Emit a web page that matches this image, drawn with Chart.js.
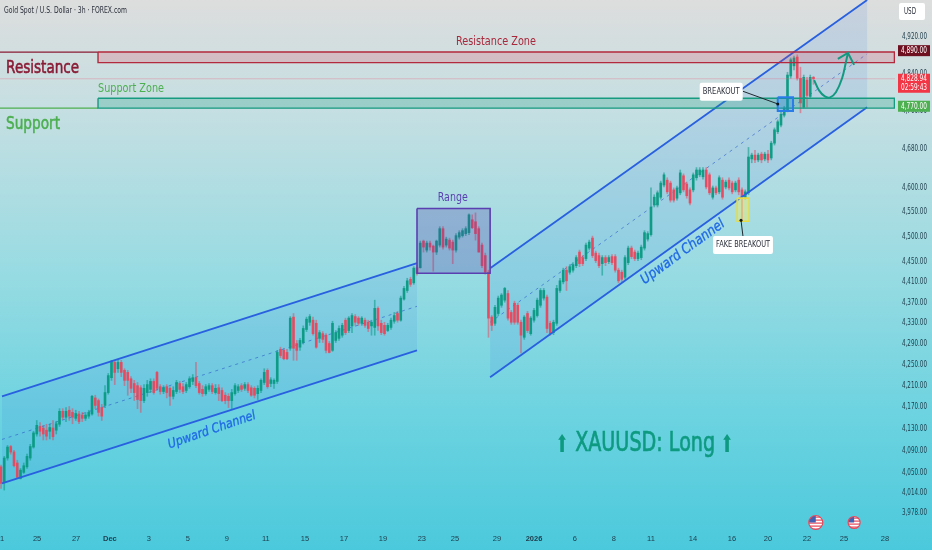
<!DOCTYPE html>
<html>
<head>
<meta charset="utf-8">
<title>Gold Spot / U.S. Dollar</title>
<script src="https://cdn.jsdelivr.net/npm/chart.js@4"></script>
<style>
html, body { margin: 0; padding: 0; background: #7fd3df; overflow: hidden; }
#wrap { width: 932px; height: 550px; }
</style>
</head>
<body>
<div id="wrap"><canvas id="myChart" width="932" height="550"></canvas></div>
<script>
// 3h candles
const barOpen = [
  4060,4033,4076,4097,4087,4067,4039,4050,4060,4076, 4096,4120,4134,4131,4127,4125,4131,4127,4138,4162,
  4151,4164,4160,4149,4157,4155,4149,4153,4157,4187, 4182,4169,4173,4197,4225,4254,4242,4254,4239,4235,
  4223,4214,4210,4206,4182,4197,4203,4218,4235,4208, 4199,4208,4205,4190,4199,4214,4208,4201,4208,4218,
  4225,4214,4203,4195,4203,4210,4197,4206,4201,4192, 4190,4182,4195,4201,4210,4205,4212,4206,4205,4195,
  4201,4216,4239,4214,4214,4218,4279,4277,4273,4281, 4341,4290,4283,4292,4317,4331,4335,4329,4300,4309,
  4306,4290,4277,4296,4300,4306,4335,4315,4324,4342, 4339,4329,4335,4331,4324,4321,4358,4329,4325,4315,
  4321,4333,4348,4335,4376,4393,4415,4408,4438,4438, 4491,4473,4487,4481,4469,4483,4516,4483,4493,4489,
  4473,4499,4502,4506,4508,4534,4530,4516,4483,4462, 4429,4341,4329,4348,4364,4374,4387,4350,4368,4364,
  4331,4302,4348,4309,4335,4344,4364,4378,4380,4329, 4311,4329,4393,4410,4433,4429,4433,4442,4469,4458,
  4456,4477,4497,4467,4462,4446,4458,4450,4460,4460, 4433,4429,4419,4448,4477,4469,4456,4458,4477,4495,
  4504,4564,4564,4580,4605,4615,4609,4595,4578,4589, 4624,4607,4595,4595,4620,4626,4622,4636,4626,4580,
  4599,4591,4615,4601,4615,4609,4595,4615,4595,4580, 4589,4659,4667,4657,4669,4659,4669,4661,4692,4716,
  4730,4751,4762,4835,4857,4876,4830,4768,4826,4791,4832
];
const barHigh = [
  4063,4079,4099,4099,4090,4072,4057,4067,4083,4101, 4125,4145,4141,4136,4138,4138,4145,4143,4167,4167,
  4169,4171,4167,4164,4162,4160,4160,4164,4192,4192, 4185,4175,4210,4233,4258,4258,4258,4258,4242,4239,
  4227,4220,4216,4210,4212,4220,4223,4223,4237,4212, 4210,4212,4208,4208,4220,4218,4214,4216,4227,4231,
  4254,4218,4210,4212,4214,4214,4212,4212,4206,4197, 4195,4203,4214,4212,4214,4216,4216,4210,4208,4210,
  4223,4242,4242,4225,4223,4277,4283,4281,4279,4342, 4348,4296,4300,4324,4341,4346,4341,4335,4315,4313,
  4309,4294,4333,4315,4324,4329,4339,4342,4348,4346, 4342,4342,4339,4335,4335,4374,4361,4335,4331,4329,
  4339,4350,4352,4382,4401,4417,4419,4440,4442,4491, 4493,4491,4491,4483,4493,4520,4520,4499,4497,4493,
  4506,4512,4516,4520,4546,4544,4548,4520,4487,4467, 4433,4344,4364,4382,4387,4399,4393,4354,4372,4368,
  4335,4344,4352,4342,4358,4378,4397,4397,4384,4333, 4335,4403,4417,4437,4440,4444,4448,4462,4473,4462,
  4487,4493,4501,4471,4467,4462,4462,4462,4464,4464, 4437,4433,4462,4481,4481,4473,4471,4483,4512,4510,
  4599,4585,4593,4613,4630,4620,4613,4599,4603,4636, 4628,4611,4599,4630,4641,4641,4641,4641,4630,4603,
  4603,4624,4620,4615,4620,4613,4613,4620,4599,4595, 4683,4671,4677,4671,4673,4673,4677,4696,4724,4741,
  4758,4770,4843,4874,4878,4881,4854,4837,4832,4837,4834
];
const barLow = [
  4021,4018,4072,4083,4060,4039,4038,4048,4057,4072, 4094,4116,4116,4109,4109,4111,4109,4120,4134,4147,
  4143,4145,4139,4145,4139,4143,4145,4149,4155,4167, 4153,4145,4169,4194,4220,4212,4235,4227,4210,4192,
  4197,4182,4167,4160,4178,4190,4197,4194,4201,4194, 4195,4187,4173,4185,4195,4197,4195,4197,4205,4212,
  4206,4194,4190,4192,4199,4195,4194,4182,4180,4176, 4169,4167,4192,4197,4199,4201,4197,4190,4187,4184,
  4197,4212,4205,4208,4205,4214,4263,4259,4259,4277, 4258,4258,4277,4289,4313,4325,4306,4281,4292,4292,
  4272,4272,4275,4292,4296,4302,4307,4311,4311,4325, 4325,4325,4321,4313,4306,4306,4315,4307,4306,4313,
  4317,4329,4331,4333,4374,4389,4401,4405,4423,4437, 4469,4469,4473,4431,4464,4479,4475,4479,4473,4446,
  4469,4495,4499,4502,4504,4516,4493,4469,4438,4425, 4302,4315,4325,4344,4360,4370,4335,4327,4327,4327,
  4272,4298,4311,4306,4331,4341,4360,4374,4311,4306, 4307,4325,4389,4406,4393,4425,4429,4438,4440,4442,
  4452,4473,4458,4448,4438,4423,4442,4446,4444,4429, 4408,4410,4415,4444,4456,4452,4452,4454,4473,4491,
  4501,4560,4560,4576,4601,4587,4570,4570,4574,4585, 4591,4578,4564,4591,4615,4622,4617,4597,4585,4576,
  4585,4587,4576,4597,4595,4587,4591,4585,4534,4576, 4585,4651,4651,4653,4651,4655,4651,4657,4688,4712,
  4726,4747,4758,4830,4848,4826,4756,4766,4768,4787,4817
];
const barClose = [
  4030,4076,4096,4087,4062,4041,4054,4062,4079,4097, 4122,4136,4125,4120,4116,4132,4115,4139,4162,4151,
  4162,4153,4151,4158,4143,4149,4155,4160,4190,4173, 4160,4153,4197,4229,4256,4235,4254,4235,4220,4220,
  4205,4197,4184,4182,4205,4212,4218,4197,4205,4199, 4206,4197,4190,4201,4216,4203,4199,4212,4223,4225,
  4210,4197,4195,4208,4210,4199,4205,4195,4182,4182, 4182,4197,4210,4208,4203,4212,4201,4192,4192,4205,
  4220,4235,4208,4221,4220,4273,4267,4261,4261,4339, 4281,4277,4296,4319,4337,4342,4309,4283,4311,4298,
  4277,4273,4329,4311,4319,4325,4311,4339,4344,4331, 4329,4339,4325,4319,4331,4358,4324,4311,4309,4325,
  4335,4344,4335,4378,4397,4412,4405,4437,4427,4487, 4479,4487,4479,4469,4491,4516,4479,4495,4477,4473,
  4502,4508,4512,4516,4544,4518,4506,4469,4442,4429, 4339,4325,4360,4378,4384,4397,4339,4331,4331,4331,
  4306,4341,4315,4339,4354,4374,4393,4393,4319,4309, 4331,4397,4412,4433,4412,4440,4444,4458,4446,4446,
  4483,4489,4462,4452,4442,4458,4448,4458,4448,4433, 4412,4415,4458,4477,4460,4456,4467,4479,4508,4506,
  4560,4580,4589,4609,4626,4591,4574,4574,4599,4630, 4595,4583,4568,4626,4636,4636,4636,4601,4589,4599,
  4589,4620,4580,4611,4599,4591,4609,4591,4580,4591, 4663,4667,4657,4667,4657,4669,4657,4692,4720,4737,
  4753,4766,4837,4870,4874,4830,4777,4832,4793,4832,4829
];

// axes
const priceTicks = [3978,4014,4050,4090,4130,4170,4210,4250,4290,4330,4370,4410,4450,4500,4550,4600,4680,4760,4840,4920];
const timeLabels = ['1','25','27','Dec','3','5','9','11','15','17','19','23','25','29','2026','6','8','11','14','16','20','22','25','28'];
const timeTickBars = [0.3,11.1,23.1,33.5,45.5,57.5,69.5,81.5,93.5,105.5,117.5,129.5,139.7,152.6,164,176.6,188.6,200,212.9,224.9,236,248,259.4,272];

// drawings, as [bar, price]
const channel1Upper = [[0.3,4190],[128,4447]];
const channel1Lower = [[0.3,4030],[128,4277]];
const channel1Mid = [[0.3,4110],[128,4362]];
const channel2Upper = [[150.5,4437],[266.5,5002]];
const channel2Lower = [[150.5,4226],[266.5,4768]];
const channel2Mid = [[150.5,4331],[266.5,4883]];
const resistanceZone = [[29.85,4887],[274.9,4887],[274.9,4864],[29.85,4864],[29.85,4887]];
const supportZone = [[29.85,4787],[274.9,4787],[274.9,4766],[29.85,4766],[29.85,4787]];
const resistanceLine = [[-0.31,4887],[29.85,4887]];
const supportLine = [[-0.31,4766],[29.85,4766]];
const lastPriceLine = [[-0.31,4829],[275.08,4829]];
const rangeBox = [[128,4557],[150.5,4557],[150.5,4427],[128,4427],[128,4557]];
const breakoutBox = [[239,4789],[243.7,4789],[243.7,4760],[239,4760],[239,4789]];
const fakeBox = [[226.5,4578],[230.2,4578],[230.2,4531],[226.5,4531],[226.5,4578]];
const breakoutLeader = [[228.3,4802],[239,4775]];
const fakeLeader = [[227.7,4533],[228.3,4501]];
const forecastPath = [[250.2,4826],[251.7,4804],[253.5,4791],[255.1,4789],[256.9,4800],[258.8,4830],[260,4866],[260.6,4885]];
const forecastHead = [[257.5,4872],[260.6,4885],[262.5,4859]];

// texts
const noteTexts = ['Resistance','Support','Resistance Zone','Support Zone','Range','Upward Channel','Upward Channel','XAUUSD: Long','⬆','⬆'];
const noteBars = [12.8,9.85,152.3,40,139,64.9,209.8,198.2,172.6,223.4];
const notePrices = [4852,4732,4909,4808,4578,4127,4469,4101,4099,4099];
const noteStyles = [
  { font: '18px "DejaVu Sans"', color: '#8a1b35', width: 73, heavy: 0.6 },
  { font: '18px "DejaVu Sans"', color: '#4caf50', width: 54, heavy: 0.6 },
  { font: '12px "DejaVu Sans"', color: '#a8283c', width: 80 },
  { font: '12px "DejaVu Sans"', color: '#4caf50', width: 66 },
  { font: '12px "DejaVu Sans"', color: '#5a3fb0', width: 30 },
  { font: 'italic 13px "DejaVu Sans"', color: '#1f68e6', width: 92, angle: -19, heavy: 0.3 },
  { font: 'italic 14px "DejaVu Sans"', color: '#1f68e6', width: 100, angle: -36, heavy: 0.3 },
  { font: '26px "DejaVu Sans"', color: '#0e9a80', width: 140, heavy: 0.7 },
  { font: '24px "DejaVu Sans"', color: '#0e9a80', width: 13 },
  { font: '24px "DejaVu Sans"', color: '#0e9a80', width: 13 }
];
const calloutTexts = ['BREAKOUT','FAKE BREAKOUT'];
const calloutBars = [221.6,228.3];
const calloutPrices = [4801,4483];
const calloutWidths = [43,60];
const eventBars = [250.7,262.5];

function pts(list) {
    return list.map(p => ({ x: p[0], y: p[1] }));
}

function rr(ctx, x, y, w, h, r) {
    ctx.beginPath();
    ctx.roundRect(x, y, w, h, r);
}

function drawLabel(ctx, text, cx, cy, font, color, width, heavy) {
    ctx.font = font;
    ctx.fillStyle = color;
    ctx.textAlign = 'center';
    ctx.textBaseline = 'middle';
    ctx.fillText(text, cx, cy, width);
    if (heavy) {
        ctx.strokeStyle = color;
        ctx.lineWidth = heavy;
        ctx.strokeText(text, cx, cy, width);
    }
}

const bars = barOpen.map((v, i) => i);
const candleColor = bars.map(i => barClose[i] >= barOpen[i] ? 'rgba(8,153,129,0.9)' : 'rgba(238,63,85,0.85)');
const wickColor = bars.map(i => barClose[i] >= barOpen[i] ? 'rgba(8,153,129,0.55)' : 'rgba(238,63,85,0.5)');

function lineDs(list, color, width, order, extra) {
    return Object.assign({
        type: 'line', data: pts(list), borderColor: color, borderWidth: width,
        pointRadius: 0, tension: 0, fill: false, order: order
    }, extra || {});
}

function shapeDs(list, stroke, tint, width, order) {
    return lineDs(list, stroke, width, order, { fill: 'shape', backgroundColor: tint });
}

const datasets = [
    // channel fills stay behind the candles
    shapeDs(channel1Upper.concat(channel1Lower.slice().reverse()), 'rgba(0,0,0,0)', 'rgba(40,110,225,0.115)', 0, 20),
    shapeDs(channel2Upper.concat(channel2Lower.slice().reverse()), 'rgba(0,0,0,0)', 'rgba(40,110,225,0.115)', 0, 20),
    lineDs(channel1Mid, 'rgba(40,90,200,0.6)', 1, 15, { borderDash: [3, 4] }),
    lineDs(channel2Mid, 'rgba(40,90,200,0.6)', 1, 15, { borderDash: [3, 4] }),
    {
        type: 'bar', label: 'wick', grouped: false, barThickness: 1, order: 11,
        data: bars.map(i => ({ x: i, y: [barLow[i], barHigh[i]] })), backgroundColor: wickColor
    },
    {
        type: 'bar', label: 'body', grouped: false, barThickness: 2, order: 10,
        data: bars.map(i => ({ x: i, y: [barOpen[i], barClose[i]] })), backgroundColor: candleColor
    },
    lineDs(channel1Upper, '#2860e0', 1.8, 5),
    lineDs(channel1Lower, '#2860e0', 1.8, 5),
    lineDs(channel2Upper, '#2860e0', 1.8, 5),
    lineDs(channel2Lower, '#2860e0', 1.8, 5),
    lineDs(lastPriceLine, 'rgba(235,90,115,0.3)', 1, 6),
    shapeDs(resistanceZone, '#b3283c', 'rgba(225,60,85,0.2)', 1.4, 4),
    shapeDs(supportZone, '#169a80', 'rgba(25,155,125,0.25)', 1.4, 4),
    lineDs(resistanceLine, '#8a1b35', 1.2, 4),
    lineDs(supportLine, '#4caf50', 1.2, 4),
    shapeDs(rangeBox, '#5a3fb0', 'rgba(80,60,165,0.27)', 1.6, 3),
    shapeDs(breakoutBox, '#2a7de8', 'rgba(40,125,240,0.28)', 2, 3),
    shapeDs(fakeBox, '#e6dc45', 'rgba(245,235,90,0.42)', 1.6, 3),
    lineDs(breakoutLeader, '#1f2a30', 1, 2),
    lineDs(fakeLeader, '#1f2a30', 1, 2),
    lineDs(forecastPath, '#119a80', 2, 2, { tension: 0.4 }),
    lineDs(forecastHead, '#119a80', 2, 2)
];

const backdrop = {
    id: 'backdrop',
    beforeDraw(chart) {
        const ctx = chart.ctx;
        const g = ctx.createLinearGradient(0, 0, 0, 550);
        g.addColorStop(0, '#dddddd');
        g.addColorStop(0.2, '#c5dfe2');
        g.addColorStop(0.5, '#97dbe2');
        g.addColorStop(0.75, '#6dd3e0');
        g.addColorStop(1, '#4bc9dc');
        ctx.fillStyle = g;
        ctx.fillRect(0, 0, 932, 550);
    }
};

const overlay = {
    id: 'overlay',
    afterDraw(chart) {
        const ctx = chart.ctx;
        const x = chart.scales.x;
        const y = chart.scales.y;
        ctx.save();

        noteTexts.forEach((t, i) => {
            const s = noteStyles[i];
            ctx.save();
            ctx.translate(x.getPixelForValue(noteBars[i]), y.getPixelForValue(notePrices[i]));
            ctx.rotate((s.angle || 0) * Math.PI / 180);
            drawLabel(ctx, t, 0, 0, s.font, s.color, s.width, s.heavy);
            ctx.restore();
        });

        // white callouts
        calloutTexts.forEach((t, i) => {
            const cx = x.getPixelForValue(calloutBars[i]);
            const cy = y.getPixelForValue(calloutPrices[i]);
            ctx.fillStyle = '#ffffff';
            rr(ctx, cx - calloutWidths[i] / 2, cy - 9, calloutWidths[i], 18, 2);
            ctx.fill();
            drawLabel(ctx, t, cx, cy, '9px "DejaVu Sans"', '#2a2e39', calloutWidths[i] - 6);
        });
        [breakoutLeader[1], fakeLeader[0]].forEach(p => {
            ctx.fillStyle = '#10181c';
            ctx.beginPath();
            ctx.arc(x.getPixelForValue(p[0]), y.getPixelForValue(p[1]), 1.5, 0, Math.PI * 2);
            ctx.fill();
        });

        // price axis labels: same ticks, squeezed to the narrow width of the original
        ctx.font = '9px "DejaVu Sans"';
        ctx.fillStyle = '#1d3b4a';
        ctx.textAlign = 'right';
        ctx.textBaseline = 'middle';
        y.ticks.forEach(t => ctx.fillText(t.label, 927, y.getPixelForValue(t.value), 25));

        // chart title and currency box
        ctx.textAlign = 'left';
        ctx.fillStyle = '#2a2e39';
        ctx.fillText('Gold Spot / U.S. Dollar · 3h · FOREX.com', 4, 11, 123);
        ctx.fillStyle = '#ffffff';
        rr(ctx, 899, 3, 26, 17, 2);
        ctx.fill();
        drawLabel(ctx, 'USD', 910, 12, '8px "DejaVu Sans"', '#2a2e39', 12);

        // price badges
        const px = p => y.getPixelForValue(p);
        ctx.fillStyle = '#6e1020';
        ctx.fillRect(898, px(4890) - 5.5, 32, 11);
        drawLabel(ctx, '4,890.00', 914, px(4890), '9px "DejaVu Sans"', '#ffffff', 26);
        ctx.fillStyle = '#f23645';
        ctx.fillRect(898, px(4829) - 5, 32, 19);
        drawLabel(ctx, '4,828.94', 914, px(4829), '9px "DejaVu Sans"', '#ffffff', 26);
        drawLabel(ctx, '02:59:43', 914, px(4829) + 9, '9px "DejaVu Sans"', '#ffffff', 26);
        ctx.fillStyle = '#4caf50';
        ctx.fillRect(898, px(4770) - 5.5, 32, 11);
        drawLabel(ctx, '4,770.00', 914, px(4770), '9px "DejaVu Sans"', '#ffffff', 26);

        // economic event flags
        eventBars.forEach((b, i) => {
            const cx = x.getPixelForValue(b);
            const cy = 522.5;
            const r = i === 0 ? 7 : 6;
            ctx.save();
            ctx.beginPath();
            ctx.arc(cx, cy, r, 0, Math.PI * 2);
            ctx.fillStyle = '#ffffff';
            ctx.fill();
            ctx.clip();
            ctx.fillStyle = '#e4485a';
            for (let k = -r + 1; k < r; k += 3) ctx.fillRect(cx - r, cy + k, r * 2, 1.2);
            ctx.fillStyle = '#3f62b5';
            ctx.fillRect(cx - r, cy - r, r, r);
            ctx.restore();
            ctx.beginPath();
            ctx.arc(cx, cy, r, 0, Math.PI * 2);
            ctx.strokeStyle = '#e4485a';
            ctx.lineWidth = 1.2;
            ctx.stroke();
        });
        ctx.restore();
    }
};

new Chart(document.getElementById('myChart'), {
    type: 'bar',
    data: { datasets },
    plugins: [backdrop, overlay],
    options: {
        responsive: false,
        animation: false,
        events: [],
        layout: { padding: { top: 0, right: 5, bottom: 0, left: 0 } },
        plugins: { legend: { display: false }, tooltip: { enabled: false } },
        scales: {
            x: {
                type: 'linear',
                offset: false,
                min: -0.31,
                max: 275.08,
                grid: { display: false, offset: false, drawTicks: false },
                border: { display: false },
                afterBuildTicks(scale) { scale.ticks = timeTickBars.map(v => ({ value: v })); },
                afterFit(scale) { scale.height = 25; scale.paddingLeft = 0; scale.paddingRight = 0; },
                ticks: {
                    autoSkip: false,
                    maxRotation: 0,
                    padding: 9,
                    color: '#1d3b4a',
                    font: c => ({
                        family: '"Liberation Sans"',
                        size: 7.5,
                        weight: timeLabels[c.index] === 'Dec' || timeLabels[c.index] === '2026' ? 'bold' : 'normal'
                    }),
                    callback: (v, i) => timeLabels[i]
                }
            },
            y: {
                type: 'logarithmic',
                position: 'right',
                min: 3955.8,
                max: 5002,
                bounds: 'data',
                grid: { display: false, drawTicks: false },
                border: { display: false },
                afterBuildTicks(scale) { scale.ticks = priceTicks.map(v => ({ value: v })); },
                afterFit(scale) { scale.width = 32; scale.paddingTop = 0; scale.paddingBottom = 0; },
                ticks: {
                    display: false,
                    autoSkip: false,
                    callback: v => v.toLocaleString('en-US', { minimumFractionDigits: 2, maximumFractionDigits: 2 })
                }
            }
        }
    }
});
</script>
</body>
</html>
